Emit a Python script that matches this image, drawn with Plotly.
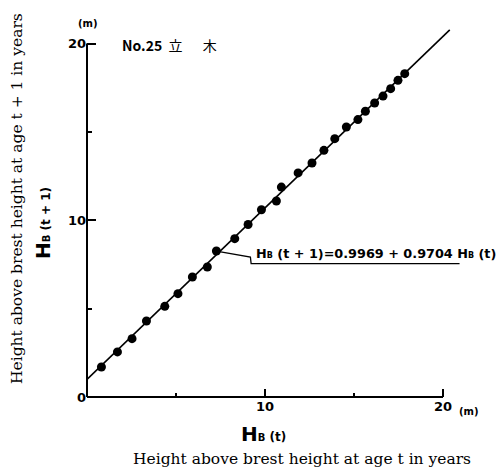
import plotly.graph_objects as go

# Height above breast height: H_B(t) against H_B(t+1), stand tree No.25
hb_t = [0.81, 1.71, 2.53, 3.34, 4.37, 5.11, 5.92, 6.76, 7.27, 8.30, 9.05, 9.80, 10.64,
        10.92, 11.86, 12.64, 13.31, 13.92, 14.57, 15.22, 15.64, 16.16, 16.63, 17.06,
        17.47, 17.85]
hb_t1 = [1.70, 2.55, 3.30, 4.30, 5.13, 5.85, 6.79, 7.36, 8.26, 8.96, 9.76, 10.60, 11.09,
         11.88, 12.68, 13.24, 13.96, 14.62, 15.28, 15.70, 16.17, 16.64, 17.03, 17.45,
         17.92, 18.30]

# Fitted regression H_B(t+1) = a + b * H_B(t)
intercept = 0.9969
slope = 0.9704
fit_x = [0.0, 20.38]
fit_y = [intercept + slope * v for v in fit_x]

axis_ticks = [0, 10, 20]
axis_ticktext = ["0", "10", "20"]

W, H = 502, 470
L, R, T, B = 87, 32, 22, 73
PW, PH = W - L - R, H - T - B
XMAX = PW / 17.8
YMAX = PH / 17.67


def fx(v):
    return v / XMAX


def fy(v):
    return v / YMAX


def px(xp):
    return (xp - L) / PW


def py(yp):
    return (H - B - yp) / PH


SANS = "DejaVu Sans"
SERIF = "DejaVu Serif"

fig = go.Figure()

fig.add_trace(go.Scatter(
    x=fit_x, y=fit_y, mode="lines",
    line=dict(color="black", width=1.6), hoverinfo="skip", showlegend=False,
))
fig.add_trace(go.Scatter(
    x=hb_t, y=hb_t1, mode="markers",
    marker=dict(color="black", size=9), showlegend=False,
))

# L-shaped axis lines ending at 20 m
fig.add_shape(type="line", xref="paper", yref="paper", x0=0, y0=0, x1=fx(20), y1=0,
              line=dict(color="black", width=2))
fig.add_shape(type="line", xref="paper", yref="paper", x0=0, y0=0, x1=0, y1=fy(20),
              line=dict(color="black", width=2))

# leader from a point to the regression equation
lx, ly = hb_t[8], hb_t1[8]
fig.add_shape(type="path", xref="x", yref="y",
              path=f"M {lx},{ly} L 9.18,7.92 L 9.22,7.55 L 20.93,7.55",
              line=dict(color="black", width=1.3))

eq_text = ("<b>H</b><span style='font-size:8px'><b>B</b></span><b> (t + 1)=0.9969 + 0.9704 "
           "H</b><span style='font-size:8px'><b>B</b></span><b> (t)</b>")
fig.add_annotation(x=9.4, y=7.58, xref="x", yref="y", text=eq_text, showarrow=False,
                   xanchor="left", yanchor="bottom",
                   font=dict(family=SANS, size=12.8, color="black"))

fig.add_annotation(x=px(120), y=py(45), xref="paper", yref="paper",
                   text="<b>No.25</b>&nbsp;&nbsp;立　&nbsp;&nbsp;木", showarrow=False,
                   xanchor="left", yanchor="middle",
                   font=dict(family="Noto Sans CJK JP", size=14, color="black"))

fig.add_annotation(x=px(88), y=py(23), xref="paper", yref="paper", text="<b>(m)</b>",
                   showarrow=False, xanchor="center", yanchor="middle",
                   font=dict(family=SANS, size=10, color="black"))
fig.add_annotation(x=px(469), y=py(411), xref="paper", yref="paper", text="<b>(m)</b>",
                   showarrow=False, xanchor="center", yanchor="middle",
                   font=dict(family=SANS, size=10, color="black"))

fig.add_annotation(x=px(263), y=py(434), xref="paper", yref="paper",
                   text=("<b>H</b><span style='font-size:10px'><b>B</b></span>"
                         "<span style='font-size:12px'><b> (t)</b></span>"),
                   showarrow=False, xanchor="center", yanchor="middle",
                   font=dict(family=SANS, size=20, color="black"))
fig.add_annotation(x=px(302), y=py(459), xref="paper", yref="paper",
                   text="Height above brest height at age t in years",
                   showarrow=False, xanchor="center", yanchor="middle",
                   font=dict(family=SERIF, size=15.5, color="black"))

fig.add_annotation(x=px(43), y=py(223), xref="paper", yref="paper",
                   text=("<b>H</b><span style='font-size:10px'><b>B</b></span>"
                         "<span style='font-size:12px'><b> (t + 1)</b></span>"),
                   showarrow=False, xanchor="center", yanchor="middle", textangle=-90,
                   font=dict(family=SANS, size=20, color="black"))
fig.add_annotation(x=px(17), y=py(199), xref="paper", yref="paper",
                   text="Height above brest height at age t + 1 in years",
                   showarrow=False, xanchor="center", yanchor="middle", textangle=-90,
                   font=dict(family=SERIF, size=15.5, color="black"))

tick_font = dict(family=SANS, size=13, color="black", weight="bold")
fig.update_xaxes(range=[0, XMAX], tickvals=axis_ticks[1:], ticktext=axis_ticktext[1:],
                 ticks="inside", ticklen=8, tickwidth=2, tickcolor="black",
                 showgrid=False, zeroline=False, showline=False, tickfont=tick_font,
                 minor=dict(tickvals=[5, 15], ticks="inside", ticklen=4, tickwidth=1.5,
                            tickcolor="black"))
fig.update_yaxes(range=[0, YMAX], tickvals=axis_ticks, ticktext=axis_ticktext,
                 ticks="inside", ticklen=9, tickwidth=2, tickcolor="black",
                 showgrid=False, zeroline=False, showline=False, tickfont=tick_font,
                 minor=dict(tickvals=[5, 15], ticks="inside", ticklen=5, tickwidth=1.5,
                            tickcolor="black"))

fig.update_layout(width=W, height=H, margin=dict(l=L, r=R, t=T, b=B, autoexpand=False),
                  paper_bgcolor="white", plot_bgcolor="white")

fig.write_html("out.html")
